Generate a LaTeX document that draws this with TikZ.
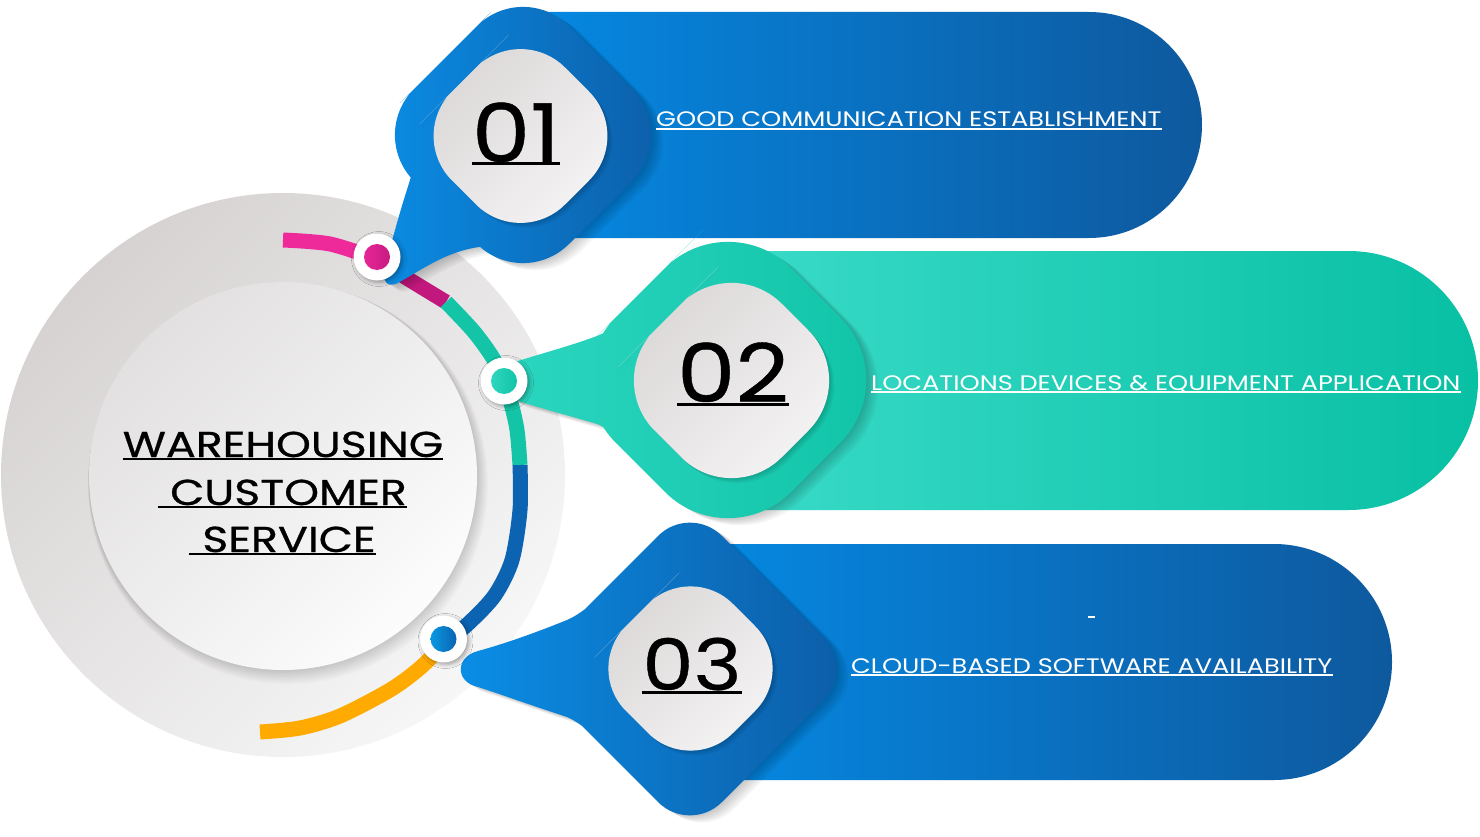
\documentclass[tikz,border=0pt]{standalone}
\usepackage{fontspec}
\setmainfont{Poppins}
\newfontfamily\labfont[FakeStretch=1.22]{Poppins}
\newfontfamily\ctrfont[FakeStretch=1.23,FakeBold=0.8]{Poppins}
\newfontfamily\numfont[FakeStretch=1.15,FakeBold=0.5]{Poppins}
\usetikzlibrary{shadows.blur}
\definecolor{cgrayA}{HTML}{D6D2D2}
\definecolor{cgrayB}{HTML}{F7F7F7}
\definecolor{cinA}{HTML}{E2E0E0}
\definecolor{cinB}{HTML}{FCFCFC}
\definecolor{tabBlueL}{HTML}{0589E3}
\definecolor{tabBlueR}{HTML}{0E599E}
\definecolor{tabTealL}{HTML}{3ADBC8}
\definecolor{tabTealR}{HTML}{08C0A3}
\definecolor{dBlueL}{HTML}{0A8EE6}
\definecolor{dBlueR}{HTML}{0D5CA6}
\definecolor{dTealL}{HTML}{2CD6C0}
\definecolor{dTealR}{HTML}{0FC3A6}
\definecolor{inDA}{HTML}{D9D5D5}
\definecolor{inDB}{HTML}{F7F6F7}
\definecolor{pinkA}{HTML}{EE2A9B}
\definecolor{pinkB}{HTML}{C2177D}
\definecolor{tealArc}{HTML}{13C4A7}
\definecolor{blueArc}{HTML}{0B63B2}
\definecolor{orangeArc}{HTML}{FFAA00}
\definecolor{pinkDot}{HTML}{C81A80}
\definecolor{tealDot}{HTML}{2ED6BF}
\definecolor{blueDot}{HTML}{0A80DA}
\newcommand{\rdiampath}[3]{({#1-#3/2},{#2-#3/2}) -- (#1,{#2-#3}) -- ({#1+#3},#2) -- (#1,{#2+#3}) -- ({#1-#3},#2) -- cycle}
\newcommand{\dpathA}{[rounded corners=65pt] \rdiampath{523}{135}{155}
  [sharp corners] (470,160) -- (492,246) .. controls (452,247) and (425,268) .. (396,284)
  .. controls (378,289) and (385,268) .. (390,248) .. controls (400,212) .. (410,180) -- (416,160) -- cycle}
\newcommand{\dpathB}{[rounded corners=89pt] \rdiampath{728}{380}{175}
  [sharp corners] (700,380) -- (645,462) .. controls (625,442) and (612,430) .. (597,424)
  .. controls (570,416) and (540,408) .. (518,401) .. controls (498,394) and (498,368) .. (518,361)
  .. controls (540,354) and (570,346) .. (597,336) .. controls (612,330) and (625,318) .. (645,298) -- cycle}
\newcommand{\dpathC}{[rounded corners=45pt] \rdiampath{690}{669}{165}
  [sharp corners] (680,668) -- (615,755) .. controls (595,738) and (585,725) .. (567,717)
  .. controls (530,705) and (500,694) .. (478,687) .. controls (455,682) and (455,657) .. (478,651)
  .. controls (500,645) and (530,635) .. (567,620) .. controls (585,612) and (595,600) .. (615,582) -- cycle}
\begin{document}
\begin{tikzpicture}[x=1pt,y=-1pt,
  seg/.style={line width=15pt},
  dotring/.style={fill=white, blur shadow={shadow xshift=2pt, shadow yshift=-2pt, shadow blur radius=4pt, shadow opacity=35}},
  softsh/.style={fill=black, opacity=0.035},
  numtxt/.style={inner sep=0pt, anchor=base, text=black},
  labtxt/.style={inner sep=0pt, anchor=base west, text=white, font=\labfont\fontsize{21}{21}\selectfont},
  ctrtxt/.style={inner sep=0pt, anchor=base, text=black, font=\ctrfont\fontsize{36}{36}\selectfont},
  ulw/.style={white, line width=1.5pt},
  ulb/.style={black, line width=2.5pt}]
\useasboundingbox (0,0) rectangle (1480,837);
\fill[white] (0,0) rectangle (1480,837);

% background circles
\shade[top color=cgrayA, bottom color=cgrayB, shading angle=45] (283,475) circle[radius=282];
\foreach \s in {1,...,10} {
  \fill[black, opacity=0.016, shift={({0.5*\s},{0.8*\s})}] (283,476) circle[radius={194+0.6*\s}];
}
\shade[top color=cinA, bottom color=cinB, shading angle=45] (283,476) circle[radius=194];

% coloured arc
\draw[seg, pinkA] plot[smooth] coordinates {(283,240) (330,244) (377,259)};
\draw[seg, pinkB] plot[smooth] coordinates {(377,259) (405,277) (446,302)};
\draw[seg, tealArc] plot[smooth] coordinates {(446,302) (475,333) (497,365) (510,400) (517,430) (520,465)};
\draw[seg, blueArc] plot[smooth] coordinates {(520,465) (520,510) (512,560) (495,595) (470,622) (443,645)};
\draw[seg, orangeArc] plot[smooth] coordinates {(443,645) (420,668) (390,690) (340,716) (300,728) (260,732)};

% tabs
\shade[left color=tabBlueL, right color=tabBlueR]
  (520,12) -- (1089,12) arc[start angle=-90, end angle=90, radius=113] -- (520,238) -- cycle;
\shade[left color=tabTealL, right color=tabTealR]
  (720,251) -- (1348.5,251) arc[start angle=-90, end angle=90, radius=129.5] -- (720,510) -- cycle;
\shade[left color=tabBlueL, right color=tabBlueR]
  (690,544) -- (1274,544) arc[start angle=-90, end angle=90, radius=118] -- (690,780) -- cycle;

% diamond 1 with tail
\foreach \s in {2,4,...,12} { \fill[softsh, shift={(\s,{0.6*\s})}] \dpathA; }
\shade[left color=dBlueL, right color=dBlueR] \dpathA;
\foreach \s in {1,2,...,5} { \fill[softsh, shift={(\s,\s)}, rounded corners=63pt] \rdiampath{520.5}{136}{113}; }
\shade[top color=inDA, bottom color=inDB, shading angle=45, rounded corners=63pt] \rdiampath{520.5}{136}{113};

% diamond 2 with tail
\foreach \s in {2,4,...,12} { \fill[softsh, shift={(\s,{0.6*\s})}] \dpathB; }
\shade[left color=dTealL, right color=dTealR] \dpathB;
\foreach \s in {1,2,...,5} { \fill[softsh, shift={(\s,\s)}, rounded corners=71pt] \rdiampath{731.5}{380.5}{127}; }
\shade[top color=inDA, bottom color=inDB, shading angle=45, rounded corners=71pt] \rdiampath{731.5}{380.5}{127};

% diamond 3 with tail
\foreach \s in {2,4,...,12} { \fill[softsh, shift={(\s,{0.6*\s})}] \dpathC; }
\shade[left color=dBlueL, right color=dBlueR] \dpathC;
\foreach \s in {1,2,...,5} { \fill[softsh, shift={(\s,\s)}, rounded corners=60pt] \rdiampath{690.5}{668.5}{107}; }
\shade[top color=inDA, bottom color=inDB, shading angle=45, rounded corners=60pt] \rdiampath{690.5}{668.5}{107};

% dots
\fill[dotring] (377,257) circle[radius=23.5];
\shade[left color=pinkA!80!pinkDot, right color=pinkDot] (377,257) circle[radius=13];
\fill[dotring] (504,381) circle[radius=23.5];
\shade[left color=tealDot, right color=tealArc] (504,381) circle[radius=13];
\fill[dotring] (443.5,639) circle[radius=23.5];
\shade[left color=blueDot!80!cyan, right color=blueArc] (443.5,639) circle[radius=13];

% numbers
\node[numtxt, font=\numfont\fontsize{81}{81}\selectfont] (n1) at (516,162) {01};
\draw[black, line width=3pt] ([yshift=-2pt]n1.base west) -- ([yshift=-2pt]n1.base east);
\node[numtxt, font=\numfont\fontsize{81}{81}\selectfont] (n2) at (733,402) {02};
\draw[black, line width=3pt] ([yshift=-2pt]n2.base west) -- ([yshift=-2pt]n2.base east);
\node[numtxt, font=\numfont\fontsize{71}{71}\selectfont] (n3) at (692,690) {03};
\draw[black, line width=3pt] ([yshift=-2pt]n3.base west) -- ([yshift=-2pt]n3.base east);

% labels
\node[labtxt] (l1) at (656,127) {GOOD COMMUNICATION ESTABLISHMENT};
\draw[ulw] ([yshift=-2pt]l1.base west) -- ([yshift=-2pt]l1.base east);
\node[labtxt] (l2) at (871,390) {LOCATIONS DEVICES \& EQUIPMENT APPLICATION};
\draw[ulw] ([yshift=-2pt]l2.base west) -- ([yshift=-2pt]l2.base east);
\node[labtxt] (l3) at (851,673) {CLOUD-BASED SOFTWARE AVAILABILITY};
\draw[ulw] ([yshift=-2pt]l3.base west) -- ([yshift=-2pt]l3.base east);
\coordinate (m1) at (1088,617);
\coordinate (m2) at (1095,617);
\draw[ulw, line width=1.2pt] (m1) -- (m2);

% centre text
\node[ctrtxt] (c1) at (283,457) {WAREHOUSING};
\draw[ulb] ([yshift=-2pt]c1.base west) -- ([yshift=-2pt]c1.base east);
\node[ctrtxt] (c2) at (288.5,505) {CUSTOMER};
\draw[ulb] ([xshift=-12pt,yshift=-2pt]c2.base west) -- ([yshift=-2pt]c2.base east);
\node[ctrtxt] (c3) at (289,552) {SERVICE};
\draw[ulb] ([xshift=-13pt,yshift=-2pt]c3.base west) -- ([yshift=-2pt]c3.base east);
\end{tikzpicture}
\end{document}
